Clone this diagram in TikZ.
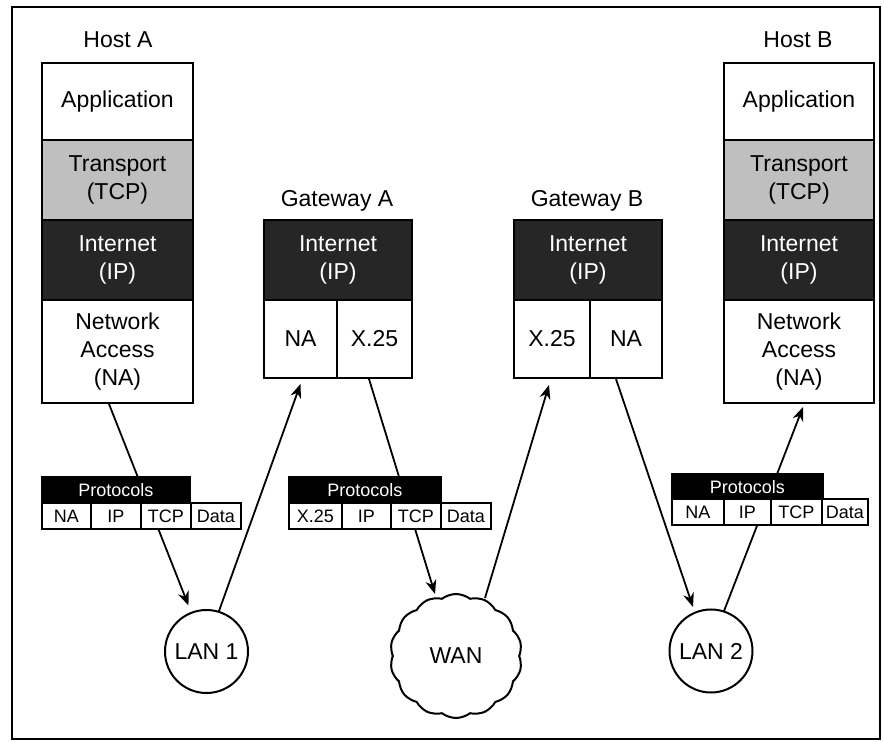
\documentclass[tikz,border=0pt]{standalone}
\usepackage{fontspec}
\setmainfont{Liberation Sans}
\usetikzlibrary{arrows.meta,shapes.symbols,calc}
\begin{document}
\begin{tikzpicture}[x=0.5pt,y=-0.5pt,
  every node/.style={font=\fontsize{11.5}{14}\selectfont, inner sep=0pt},
  layer/.style={draw, line width=1pt, rectangle, anchor=north west, align=center},
  translayer/.style={layer, fill=black!25},
  netlayer/.style={layer, fill=black!85, text=white},
  lbl/.style={anchor=center},
  phead/.style={draw, line width=0.9pt, fill=black, text=white, anchor=north west, minimum height=13pt, font=\fontsize{9}{11}\selectfont},
  pcell/.style={draw, line width=0.9pt, fill=white, anchor=north west, minimum height=13pt, font=\fontsize{9}{11}\selectfont},
  lan/.style={draw, circle, line width=1pt, minimum size=41.5pt},
  arr/.style={line width=0.9pt, -{Stealth[length=7pt,width=5.5pt]}}
]
\useasboundingbox (0,0) rectangle (884,742);
\draw[line width=1pt] (12,7) rectangle (880,739);

% Host A
\node[lbl] (hostAlbl) at (118,40) {Host A};
\node[layer, minimum width=75.5pt, minimum height=38.5pt] (hAapp) at (41,62) {Application};
\node[translayer, minimum width=75.5pt, minimum height=40pt] (hAtr) at (41,139) {Transport\\(TCP)};
\node[netlayer, minimum width=75.5pt, minimum height=40pt] (hAip) at (41,219) {Internet\\(IP)};
\node[layer, minimum width=75.5pt, minimum height=51.5pt] (hAna) at (41,299) {Network\\Access\\(NA)};

% Host B
\node[lbl] (hostBlbl) at (798,40) {Host B};
\node[layer, minimum width=75pt, minimum height=38.5pt] (hBapp) at (723,62) {Application};
\node[translayer, minimum width=75pt, minimum height=40pt] (hBtr) at (723,139) {Transport\\(TCP)};
\node[netlayer, minimum width=75pt, minimum height=40pt] (hBip) at (723,219) {Internet\\(IP)};
\node[layer, minimum width=75pt, minimum height=51.5pt] (hBna) at (723,299) {Network\\Access\\(NA)};

% Gateway A
\node[lbl] (gwAlbl) at (337,201) {Gateway A};
\node[netlayer, minimum width=74pt, minimum height=40pt] (gwAip) at (263,219) {Internet\\(IP)};
\node[layer, minimum width=36.5pt, minimum height=39pt] (gwAna) at (263,299) {NA};
\node[layer, minimum width=37.5pt, minimum height=39pt] (gwAx) at (336,299) {X.25};

% Gateway B
\node[lbl] (gwBlbl) at (587,201) {Gateway B};
\node[netlayer, minimum width=74pt, minimum height=40pt] (gwBip) at (513,219) {Internet\\(IP)};
\node[layer, minimum width=38pt, minimum height=39pt] (gwBx) at (513,299) {X.25};
\node[layer, minimum width=36pt, minimum height=39pt] (gwBna) at (589,299) {NA};

% Networks
\node[lan] (lan1) at (206.5,651.5) {LAN 1};
\node[lan] (lan2) at (711,651) {LAN 2};
\node[draw, cloud, cloud puffs=14, cloud puff arc=75, line width=1pt, minimum width=66pt, minimum height=62pt] (wan) at (456,656) {WAN};

% Arrows
\draw[arr] ([xshift=-4.25pt]hAna.south) -- ($(lan1.center)+(-18,-46)$);
\draw[arr] ($(lan1.center)+(12.5,-40.5)$) -- ([yshift=-2.5pt]gwAna.south);
\draw[arr] ([xshift=-2.75pt]gwAx.south) -- ($(wan.center)+(-21,-62)$);
\draw[arr] ($(wan.center)+(29,-58)$) -- ([xshift=-1.5pt,yshift=-3pt]gwBx.south);
\draw[arr] ([xshift=-5pt]gwBna.south) -- ($(lan2.center)+(-18,-44)$);
\draw[arr] ($(lan2.center)+(13,-40)$) -- ([xshift=2pt,yshift=-1.5pt]hBna.south);

% Protocol table 1
\node[phead, minimum width=74pt] (t1h) at (41,476) {Protocols};
\node[pcell, minimum width=24.5pt] (t1na) at (41,502) {NA};
\node[pcell, minimum width=25pt] (t1ip) at (90,502) {IP};
\node[pcell, minimum width=25pt] (t1tcp) at (140,502) {TCP};
\node[pcell, minimum width=25pt] (t1d) at (190,502) {Data};

% Protocol table 2
\node[phead, minimum width=76pt] (t2h) at (288,476) {Protocols};
\node[pcell, minimum width=26.5pt] (t2x) at (288,502) {X.25};
\node[pcell, minimum width=24.5pt] (t2ip) at (341,502) {IP};
\node[pcell, minimum width=25pt] (t2tcp) at (390,502) {TCP};
\node[pcell, minimum width=25pt] (t2d) at (440,502) {Data};

% Protocol table 3
\node[phead, minimum width=75.5pt] (t3h) at (671,473) {Protocols};
\node[pcell, minimum width=26pt] (t3na) at (671,498) {NA};
\node[pcell, minimum width=23.5pt] (t3ip) at (723,498) {IP};
\node[pcell, minimum width=25.5pt] (t3tcp) at (770,498) {TCP};
\node[pcell, minimum width=23pt] (t3d) at (821,498) {Data};
\end{tikzpicture}
\end{document}
